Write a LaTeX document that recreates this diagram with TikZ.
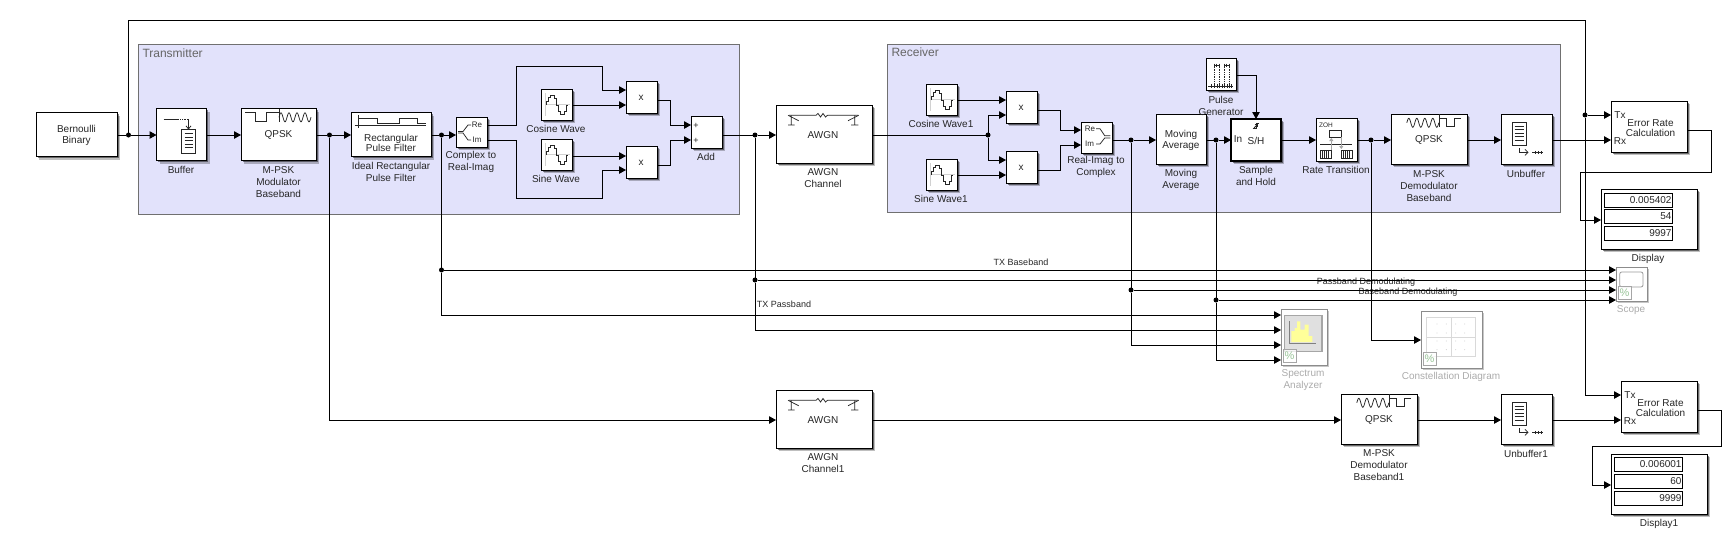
\documentclass[tikz,border=0pt]{standalone}
\usepackage{fontspec}
\setmainfont{Liberation Sans}
\usepackage{xcolor}
\usetikzlibrary{arrows.meta,shadows}
\definecolor{softblue}{HTML}{E2E2FB}
\definecolor{softborder}{HTML}{707070}
\definecolor{softyellow}{HTML}{FFFF99}
\definecolor{softgreen}{HTML}{98C498}
\definecolor{fadedtext}{HTML}{ABABAB}

\begin{document}
\begin{tikzpicture}[
  x=1pt, y=-1pt,
  line width=1pt,
  lbl/.style={font=\fontsize{10}{12}\selectfont, align=center, inner sep=0pt, text=black!85},
  inner/.style={font=\fontsize{10}{10.3}\selectfont, align=center, inner sep=0pt, text=black!85},
  tiny/.style={font=\fontsize{8}{8}\selectfont, inner sep=0pt, text=black!85},
  faded/.style={lbl, text=fadedtext},
  title/.style={font=\fontsize{12}{14}\selectfont, anchor=west, inner sep=0pt, text=black!60},
  subsys/.style={draw=softborder, fill=softblue, line width=.8pt},
  block/.style={draw, fill=white, inner sep=0pt, outer sep=0pt,
    drop shadow={shadow xshift=3pt, shadow yshift=-3pt, opacity=.25, fill=black},
    drop shadow={shadow xshift=1.6pt, shadow yshift=-1.6pt, opacity=.45, fill=black}},
  blk/.style 2 args={block, minimum width=#1pt, minimum height=#2pt},
  ghost/.style 2 args={draw=black!45, fill=white, inner sep=0pt, outer sep=0pt, minimum width=#1pt, minimum height=#2pt,
    drop shadow={shadow xshift=1.6pt, shadow yshift=-1.6pt, opacity=.22, fill=black}},
  field/.style={draw, fill=white, inner sep=0pt, outer sep=0pt, minimum width=68pt, minimum height=14pt, text width=67pt, align=right,
    font=\fontsize{10}{11}\selectfont, text=black!85},
  dot/.style={circle, fill=black, inner sep=0pt, outer sep=0pt, minimum size=5pt},
  sig/.style={line width=1pt},
  arr/.style={sig, -{Triangle[length=7pt, width=7.5pt]}},
  icon/.style={line width=.75pt, black!85},
  pics/sinewave/.style={code={
    \draw[black!18, line width=1.4pt] (4.5,4) -- (4.5,27) (4.5,15.7) -- (29,15.7);
    \draw[icon] (5,16) |- (7,12) |- (9,8) |- (13,6) |- (15,9) |- (17,16) |- (19,22) |- (23,25) |- (25,22) |- (27,16);
  }},
  pics/awgnicon/.style={code={
    \draw[icon] (13,10.3) -- (40,10.3) -- (42,8.5) -- (44.5,12) -- (47,8.5) -- (49.5,12) -- (51.5,10.3) -- (82,10.3);
    \draw[icon] (15.3,10.3) -- (15.3,20) (12,20) -- (18.7,20) (12,10.3) -- (22.7,15.7);
    \draw[icon] (78.7,10.3) -- (78.7,20) (75,20) -- (82.4,20) (82.7,10.3) -- (72,15.7);
  }},
  pics/qpskmodicon/.style={code={
    \draw[icon] (4.3,4.3) -| (14.7,13.3) -| (25.3,4.3) -- (38,4.3);
    \draw[icon] (38,0) -- (38,13);
    \draw[icon] plot[domain=0:32, samples=65] (\x+38, {8.8-4.5*sin(45*\x)});
  }},
  pics/qpskdemicon/.style={code={
    \draw[icon] plot[domain=0:32, samples=65] (\x+15.8, {8.8-4.5*sin(45*\x)});
    \draw[icon] (48,0) -- (48,13);
    \draw[icon] (48,4) -| (55.3,12.3) -| (63.7,4) -- (70.3,4);
  }},
  pics/buffericon/.style={code={
    \draw[icon] (7,10.7) -- (20,10.7);
    \draw[icon, densely dotted] (20,10.7) -- (32,10.7);
    \draw[icon, -{Straight Barb[length=3pt, width=5pt]}] (32,10.7) -- (32,21);
    \draw[icon] (25,21) rectangle (39.3,45);
    \foreach \by in {25,28.5,32,35.5,39} \draw[icon] (28,\by) -- (36.5,\by);
  }},
  pics/unbuffericon/.style={code={
    \draw[icon] (11,8) rectangle (25.3,31);
    \foreach \by in {12,15.5,19,22.5,26} \draw[icon] (13.5,\by) -- (23,\by);
    \draw[icon, -{Straight Barb[length=3pt, width=6pt]}] (18,34) |- (27.5,38.3);
    \draw[icon] (31,38.3) -- (42,38.3);
    \foreach \bx in {34,37,40} \draw[icon] (\bx,36.8) -- (\bx,39.8);
  }},
  pics/recticon/.style={code={
    \draw[icon] (3.7,13) -- (75,13) (7.7,2.7) -- (7.7,15);
    \draw[icon] (7.7,6) -| (26,10.7) -| (48.7,6) -| (66,10.7) -- (75,10.7);
  }},
  pics/cplxicon/.style={code={
    \draw[icon] (2,14.5) -- (7,14.5) -- (12,8) -- (15,8);
    \draw[icon] (2,16) -- (7,16) -- (12,23) -- (15,23);
    \node[tiny] (-re) at (21,7.5) {Re};
    \node[tiny] (-im) at (21,23) {Im};
  }},
  pics/recplxicon/.style={code={
    \node[tiny] (-re) at (9,6.7) {Re};
    \node[tiny] (-im) at (8.5,22) {Im};
    \draw[icon] (15,6.7) -- (19,6.7) -- (23.7,13.7) -- (29.3,13.7);
    \draw[icon] (15,22) -- (19,22) -- (23.7,16) -- (29.3,16);
  }},
  pics/pulseicon/.style={code={
    \draw[icon] (2,28) -- (27,28) (8,7) -- (13,7) (18,7) -- (23,7);
    \foreach \bx in {8,13,18,23} \draw[icon, densely dotted] (\bx,7) -- (\bx,28);
    \foreach \bx in {5,8,11,13,16,18,21,23,25} \draw[icon] (\bx,26) -- (\bx,30);
    \foreach \bx in {8,10.5,13,18,20.5,23} \draw[icon] (\bx,5.5) -- (\bx,8.5);
  }},
  pics/sahicon/.style={code={
    \draw[icon] (21.7,9.5) -- (25,9.5) -- (25,4.5) -- (28.3,4.5);
    \draw[icon, -{Straight Barb[length=2pt, width=4pt]}] (23,9) -- (27,5);
  }},
  pics/rateicon/.style={code={
    \node[tiny, font=\fontsize{6.5}{7}\selectfont] (-zoh) at (10,7) {ZOH};
    \draw[icon] (13.7,12) rectangle (25.3,19);
    \draw[icon] (4.3,26) -- (36,26);
    \draw[black!35, line width=.7pt, -{Triangle[length=3pt, width=4pt]}] (15.3,32) -- (15.3,20);
    \draw[black!35, line width=.7pt, -{Triangle[length=3pt, width=4pt]}] (25.3,19) -- (25.3,31);
    \draw[icon] (4.7,32.7) rectangle (15.3,40) (25.3,32.7) rectangle (36,40);
    \foreach \bx in {6.5,8.5,10.5,12.5,27,29,31,33} \draw[icon] (\bx,33) -- (\bx,39.5);
  }},
  pics/badge/.style={code={
    \draw[black!35, line width=.8pt, fill=white, fill opacity=.75] (0,0) rectangle (13.3,13.3);
    \node[inner sep=0pt, text=softgreen, font=\fontsize{11}{11}\selectfont] (-pct) at (6.6,6.6) {\%};
  }},
  pics/specicon/.style={code={
    \draw[black!35, fill=black!12, line width=1.6pt] (3.3,6.3) rectangle (40.7,42.3);
    \fill[softyellow] (10.3,33) |- (13.7,22) |- (16,19) |- (19.3,12.3) |- (23.7,20.7) |- (27.7,15.7) |- (31.3,27) |- cycle;
    \draw[black!50, line width=1pt] (8,12) |- (35.3,34);
  }},
  pics/consticon/.style={code={
    \draw[black!15, line width=.7pt] (5.7,6) rectangle (54,45.3) (30,6) -- (30,45.3) (5.7,26) -- (54,26);
    \foreach \bx in {16,25.3,34.7,43.7} \foreach \by in {13,22,30,38.7} \fill[black!35] (\bx,\by) circle (.4pt);
  }},
  pics/scopeicon/.style={code={
    \draw[black!40, rounded corners=2pt, line width=.8pt] (3.7,5) rectangle (27,20);
  }}
]
  \useasboundingbox (0,0) rectangle (1734,542);

  \node[subsys, minimum width=601pt, minimum height=170pt, inner sep=0pt] (txbox) at (438.5,129) {};
  \node[subsys, minimum width=673pt, minimum height=168pt, inner sep=0pt] (rxbox) at (1223.5,128) {};
  \node[title] (txtitle) at (142,53) {Transmitter};
  \node[title] (rxtitle) at (891,52) {Receiver};

  \node[blk={81}{44}] (bern) at (76.5,134.5) {};
  \node[blk={50}{52}] (buff) at (181.5,134.5) {};
  \node[blk={75}{52}] (qmod) at (278.5,134.5) {};
  \node[blk={80}{44}] (rectf) at (391,134.5) {};
  \node[blk={31}{30}] (cplx) at (471.5,132) {};
  \node[blk={31}{31}] (cosw) at (556.5,104.5) {};
  \node[blk={31}{31}] (sinw) at (556.5,154.5) {};
  \node[blk={31}{32}] (prodA) at (641.5,97) {};
  \node[blk={31}{32}] (prodB) at (641.5,162) {};
  \node[blk={31}{32}] (addb) at (706.5,132) {};
  \node[blk={96}{58}] (awgn) at (824,134) {};

  \node[blk={31}{31}] (cosr) at (941.5,99.5) {};
  \node[blk={31}{31}] (sinr) at (941.5,174.5) {};
  \node[blk={31}{32}] (prodC) at (1021.5,107) {};
  \node[blk={31}{32}] (prodD) at (1021.5,167) {};
  \node[blk={31}{31}] (recplx) at (1096.5,137.5) {};
  \node[blk={50}{50}] (movavg) at (1181,139) {};
  \node[blk={30}{32}] (pulseg) at (1221,74) {};
  \node[blk={50}{42}, line width=2pt] (sah) at (1256,140) {};
  \node[blk={41}{43}] (ratet) at (1336.5,139.5) {};
  \node[blk={76}{50}] (qdem) at (1429,139) {};
  \node[blk={51}{50}] (unbuf) at (1526.5,139) {};
  \node[blk={76}{51}] (errA) at (1649,126.5) {};
  \node[blk={96}{60}] (dispA) at (1649,219) {};

  \node[blk={96}{58}] (awgnB) at (824,419) {};
  \node[blk={76}{50}] (qdemB) at (1379,419) {};
  \node[blk={51}{50}] (unbufB) at (1526.5,419) {};
  \node[blk={76}{51}] (errB) at (1659,406.5) {};
  \node[blk={96}{60}] (dispB) at (1659,484) {};

  \node[ghost={46}{56}] (spec) at (1304,337) {};
  \node[ghost={61}{57}] (constd) at (1451.5,339.5) {};
  \node[ghost={31}{34}] (scopeb) at (1631.5,284) {};

  \pic at (cosw.north west) {sinewave};
  \pic at (sinw.north west) {sinewave};
  \pic at (cosr.north west) {sinewave};
  \pic at (sinr.north west) {sinewave};
  \pic at (awgn.north west) {awgnicon};
  \pic at (awgnB.north west) {awgnicon};
  \pic at (qmod.north west) {qpskmodicon};
  \pic at (qdem.north west) {qpskdemicon};
  \pic at (qdemB.north west) {qpskdemicon};
  \pic at (buff.north west) {buffericon};
  \pic at (unbuf.north west) {unbuffericon};
  \pic at (unbufB.north west) {unbuffericon};
  \pic at (rectf.north west) {recticon};
  \pic (cpi) at (cplx.north west) {cplxicon};
  \pic (rci) at (recplx.north west) {recplxicon};
  \pic at (pulseg.north west) {pulseicon};
  \pic at (sah.north west) {sahicon};
  \pic (rti) at (ratet.north west) {rateicon};
  \pic at (spec.north west) {specicon};
  \pic at (constd.north west) {consticon};
  \pic at (scopeb.north west) {scopeicon};
  \pic (bdA) at (1283,349) {badge};
  \pic (bdB) at (1423,352.3) {badge};
  \pic (bdC) at (1618,286.3) {badge};

  \node[inner] (berntxt) at (76.5,135.5) {Bernoulli\\Binary};
  \node[inner] (qmodtxt) at (278.5,135) {QPSK};
  \node[inner] (recttxt) at (391,143) {Rectangular\\Pulse Filter};
  \node[inner] (prodAtxt) at (641,98) {x};
  \node[inner] (prodBtxt) at (641,163) {x};
  \node[inner] (awgntxt) at (823,135) {AWGN};
  \node[inner] (prodCtxt) at (1021,108) {x};
  \node[inner] (prodDtxt) at (1021,168) {x};
  \node[inner] (movtxt) at (1181,140.5) {Moving\\Average};
  \node[inner] (qdemtxt) at (1429,140) {QPSK};
  \node[inner] (awgnBtxt) at (823,420) {AWGN};
  \node[inner] (qdemBtxt) at (1379,420) {QPSK};
  \node[inner] (sahin) at (1238,139) {In};
  \node[inner] (sahsh) at (1256,141) {S/H};
  \node[inner] (errAtxt) at (1650.5,128) {Error Rate\\Calculation};
  \node[inner] (errBtxt) at (1660.5,408) {Error Rate\\Calculation};
  \node[inner] (errAtxl) at (1620,115.5) {Tx};
  \node[inner] (errArxl) at (1620,141) {Rx};
  \node[inner] (errBtxl) at (1630,395.5) {Tx};
  \node[inner] (errBrxl) at (1630,421) {Rx};
  \node[inner, font=\fontsize{9}{9}\selectfont] (addp) at (696,125.5) {+};
  \node[inner, font=\fontsize{9}{9}\selectfont] (addq) at (696,140.5) {+};

  \node[field] (dA1) at (1638,200) {0.005402};
  \node[field] (dA2) at (1638,216.5) {54};
  \node[field] (dA3) at (1638,233.5) {9997};
  \node[field] (dB1) at (1648,464) {0.006001};
  \node[field] (dB2) at (1648,481.5) {60};
  \node[field] (dB3) at (1648,498) {9999};

  \node[lbl] (buffl) at (181,170) {Buffer};
  \node[lbl] (qmodl) at (278.5,182) {M-PSK\\Modulator\\Baseband};
  \node[lbl] (rectl) at (391,172) {Ideal Rectangular\\Pulse Filter};
  \node[lbl] (cplxl) at (471,162) {Complex to\\Real-Imag};
  \node[lbl] (coswl) at (556,128.5) {Cosine Wave};
  \node[lbl] (sinwl) at (556,178.5) {Sine Wave};
  \node[lbl] (addl) at (706,157) {Add};
  \node[lbl] (awgnl) at (823,178.5) {AWGN\\Channel};
  \node[lbl] (cosrl) at (941,124) {Cosine Wave1};
  \node[lbl] (sinrl) at (941,199) {Sine Wave1};
  \node[lbl] (recl) at (1096,167) {Real-Imag to\\Complex};
  \node[lbl] (movl) at (1181,180) {Moving\\Average};
  \node[lbl] (pulsel) at (1221,106) {Pulse\\Generator};
  \node[lbl] (sahl) at (1256,176) {Sample\\and Hold};
  \node[lbl] (ratel) at (1336,170) {Rate Transition};
  \node[lbl] (qdeml) at (1429,186) {M-PSK\\Demodulator\\Baseband};
  \node[lbl] (unbufl) at (1526,174) {Unbuffer};
  \node[lbl] (dispAl) at (1648,259) {Display};
  \node[lbl] (awgnBl) at (823,463) {AWGN\\Channel1};
  \node[lbl] (qdemBl) at (1379,465) {M-PSK\\Demodulator\\Baseband1};
  \node[lbl] (unbufBl) at (1526,454) {Unbuffer1};
  \node[lbl] (dispBl) at (1659,524) {Display1};
  \node[faded] (specl) at (1303,380) {Spectrum\\Analyzer};
  \node[faded] (constl) at (1451,377) {Constellation Diagram};
  \node[faded] (scopel) at (1631,310) {Scope};

  \node[lbl, font=\fontsize{9}{11}\selectfont] (txbase) at (1021,262) {TX Baseband};
  \node[lbl, font=\fontsize{9}{11}\selectfont] (txpass) at (784,304) {TX Passband};
  \node[lbl, font=\fontsize{9}{11}\selectfont] (pbdem) at (1366,282) {Passband Demodulating};
  \node[lbl, font=\fontsize{9}{11}\selectfont] (bbdem) at (1408,292) {Baseband Demodulating};

  \node[dot] (dtA) at (128.5,135) {};
  \node[dot] (dtB) at (329.5,135) {};
  \node[dot] (dtC) at (441.5,135) {};
  \node[dot] (dtD) at (755,135) {};
  \node[dot] (dtE) at (988,135) {};
  \node[dot] (dtF) at (1131,140) {};
  \node[dot] (dtG) at (1216,140) {};
  \node[dot] (dtH) at (1371,140) {};
  \node[dot] (dtI) at (1585,115) {};
  \node[dot] (dtJ) at (441.5,270) {};
  \node[dot] (dtK) at (755,280) {};
  \node[dot] (dtL) at (1131,290) {};
  \node[dot] (dtM) at (1216,300) {};

  \coordinate (scopeA) at (1616,270);
  \coordinate (scopeB) at (1616,280);
  \coordinate (scopeC) at (1616,290);
  \coordinate (scopeD) at (1616,300);
  \coordinate (specA) at (1281,315);
  \coordinate (specB) at (1281,330);
  \coordinate (specC) at (1281,345);
  \coordinate (specD) at (1281,360);
  \coordinate (errAtx) at (1611,115);
  \coordinate (errArx) at (1611,140);
  \coordinate (errBtx) at (1621,395);
  \coordinate (errBrx) at (1621,420);
  \coordinate (errAout) at (1687,130);
  \coordinate (errBout) at (1697,410);
  \coordinate (cplxre) at (487,125);
  \coordinate (cplxim) at (487,140);
  \coordinate (prodAi) at (626,90);
  \coordinate (prodAj) at (626,105);
  \coordinate (prodBi) at (626,156);
  \coordinate (prodBj) at (626,170);
  \coordinate (prodCi) at (1006,100);
  \coordinate (prodCj) at (1006,115);
  \coordinate (prodDi) at (1006,160);
  \coordinate (prodDj) at (1006,175);
  \coordinate (addi) at (691,125);
  \coordinate (addj) at (691,140);
  \coordinate (reci) at (1081,130);
  \coordinate (recj) at (1081,145);

  \draw[sig] (bern.east |- dtA) -- (dtA);
  \draw[arr] (dtA) -- (buff.west |- dtA);
  \draw[sig] (dtA) |- (1585,20) -- (dtI);
  \draw[arr] (buff.east |- dtA) -- (qmod.west |- dtA);
  \draw[sig] (qmod.east |- dtB) -- (dtB);
  \draw[arr] (dtB) -- (rectf.west |- dtB);
  \draw[arr] (dtB) |- (awgnB.west |- 0,420);
  \draw[sig] (rectf.east |- dtC) -- (dtC);
  \draw[arr] (dtC) -- (cplx.west |- dtC);
  \draw[sig] (dtC) -- (dtJ);
  \draw[arr] (dtJ) -- (scopeA);
  \draw[arr] (dtJ) |- (specA);
  \draw[arr] (cplxre) -- ++(29,0) |- (602,66) |- (prodAi);
  \draw[arr] (cplxim) -- ++(29,0) |- (602,198) |- (prodBj);
  \draw[arr] (cosw.east |- prodAj) -- (prodAj);
  \draw[arr] (sinw.east |- prodBi) -- (prodBi);
  \draw[arr] (prodA.east |- 0,100) -| (670,125) -- (addi);
  \draw[arr] (prodB.east |- 0,165) -| (670,140) -- (addj);
  \draw[sig] (addb.east |- dtD) -- (dtD);
  \draw[arr] (dtD) -- (awgn.west |- dtD);
  \draw[sig] (dtD) -- (dtK);
  \draw[arr] (dtK) -- (scopeB);
  \draw[arr] (dtK) |- (specB);

  \draw[sig] (awgn.east |- dtE) -- (dtE);
  \draw[arr] (dtE) |- (prodCj);
  \draw[arr] (dtE) |- (prodDi);
  \draw[arr] (cosr.east |- prodCi) -- (prodCi);
  \draw[arr] (sinr.east |- prodDj) -- (prodDj);
  \draw[arr] (prodC.east |- 0,110) -| (1060,130) -- (reci);
  \draw[arr] (prodD.east |- 0,170) -| (1060,145) -- (recj);
  \draw[sig] (recplx.east |- dtF) -- (dtF);
  \draw[arr] (dtF) -- (movavg.west |- dtF);
  \draw[sig] (dtF) -- (dtL);
  \draw[arr] (dtL) -- (scopeC);
  \draw[arr] (dtL) |- (specC);
  \draw[sig] (movavg.east |- dtG) -- (dtG);
  \draw[arr] (dtG) -- (sah.west |- dtG);
  \draw[sig] (dtG) -- (dtM);
  \draw[arr] (dtM) -- (scopeD);
  \draw[arr] (dtM) |- (specD);
  \draw[arr] (pulseg.east |- 0,75) -| (sah.north);
  \draw[arr] (sah.east |- dtH) -- (ratet.west |- dtH);
  \draw[sig] (ratet.east |- dtH) -- (dtH);
  \draw[arr] (dtH) -- (qdem.west |- dtH);
  \draw[arr] (dtH) |- (constd.west |- 0,340);
  \draw[arr] (qdem.east |- dtH) -- (unbuf.west |- dtH);
  \draw[arr] (unbuf.east |- dtH) -- (errArx);
  \draw[arr] (dtI) -- (errAtx);
  \draw[arr] (dtI) |- (errBtx);
  \draw[arr] (errAout) -| (1711,172) -| (1580,220) -- (dispA.west |- 0,220);

  \draw[arr] (awgnB.east |- 0,420) -- (qdemB.west |- 0,420);
  \draw[arr] (qdemB.east |- 0,420) -- (unbufB.west |- 0,420);
  \draw[arr] (unbufB.east |- 0,420) -- (errBrx);
  \draw[arr] (errBout) -| (1721,446) -| (1592,485) -- (dispB.west |- 0,485);
\end{tikzpicture}
\end{document}
